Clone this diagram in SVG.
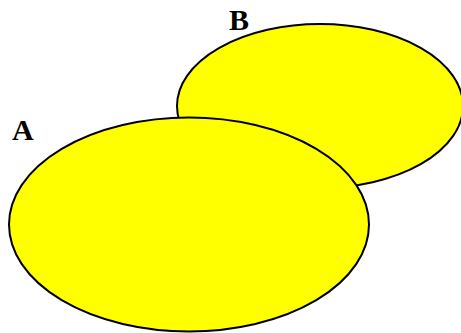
<svg xmlns="http://www.w3.org/2000/svg" width="461" height="333" viewBox="0 0 461 333">
<style>
.set{fill:#ffff00;stroke:#000;stroke-width:2}
.lbl{font-family:"Liberation Serif",serif;font-weight:bold;font-size:30px;fill:#000}
</style>
<rect width="461" height="333" fill="#fff"/>
<g id="B">
<ellipse class="set" cx="320" cy="106" rx="143" ry="82"/>
<text class="lbl" x="229" y="30">B</text>
</g>
<g id="A">
<ellipse class="set" cx="189" cy="224.5" rx="180" ry="107"/>
<text class="lbl" x="12" y="140">A</text>
</g>
<g id="connectors"/>
</svg>
